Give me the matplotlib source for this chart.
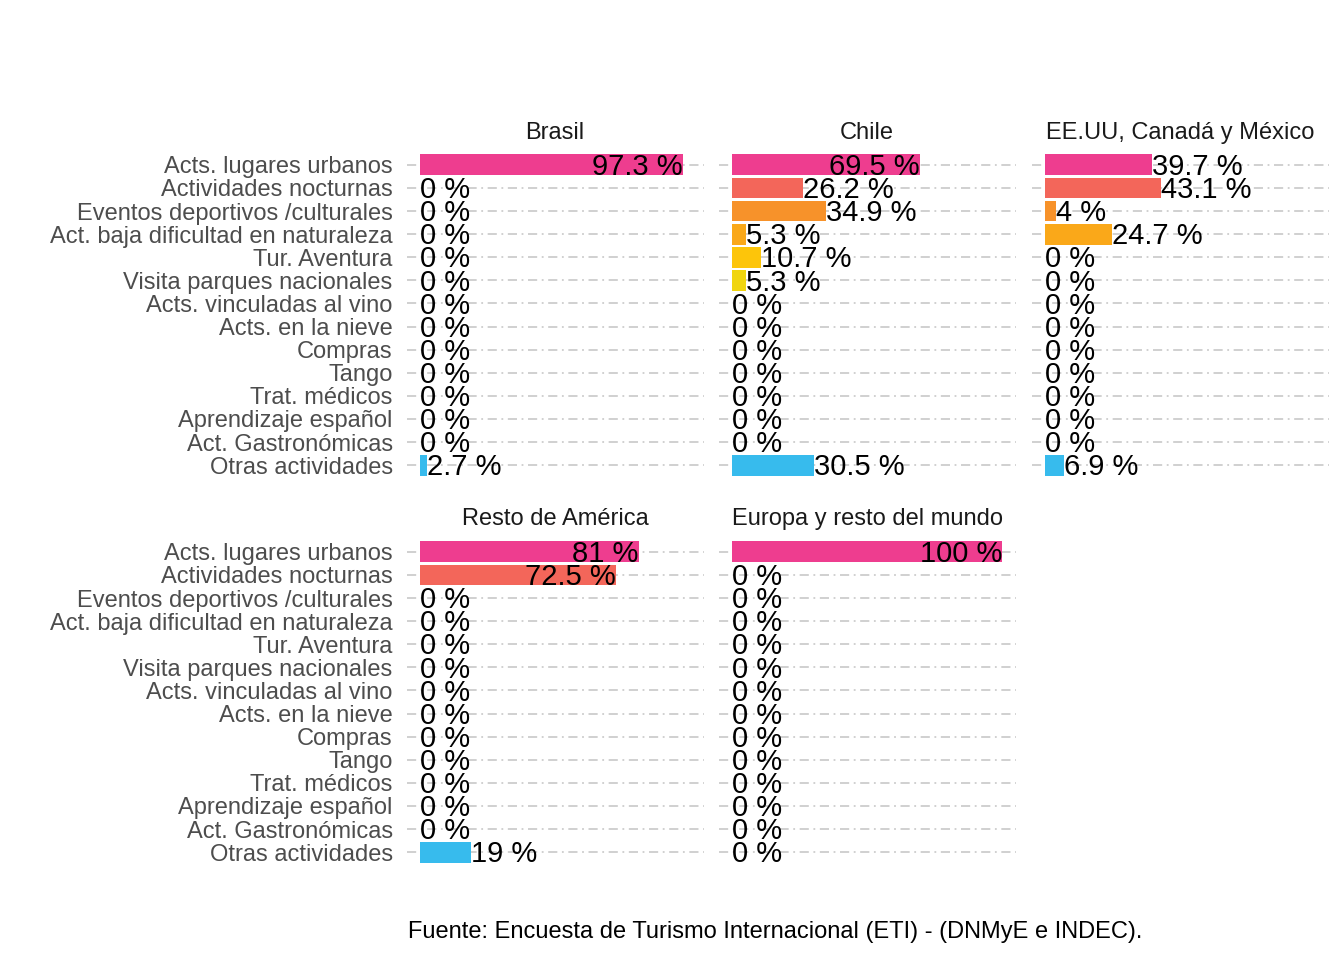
import matplotlib
matplotlib.use("Agg")
import matplotlib.pyplot as plt

plt.rcParams["font.family"] = ["Liberation Sans", "DejaVu Sans"]

# Activity categories (top to bottom)
activities = [
    "Acts. lugares urbanos",
    "Actividades nocturnas",
    "Eventos deportivos /culturales",
    "Act. baja dificultad en naturaleza",
    "Tur. Aventura",
    "Visita parques nacionales",
    "Acts. vinculadas al vino",
    "Acts. en la nieve",
    "Compras",
    "Tango",
    "Trat. médicos",
    "Aprendizaje español",
    "Act. Gastronómicas",
    "Otras actividades",
]

# One color per activity
colors = [
    "#EE3D8F", "#F3665A", "#F7922A", "#FAA819", "#FDC50A", "#F0D50F",
    "#B7D433", "#50B848", "#00A68D", "#0098B0", "#3E7EC2", "#6D5BA8",
    "#A5519E", "#37BBED",
]

# Percentage of tourists per origin
brasil = [97.3, 0, 0, 0, 0, 0, 0, 0, 0, 0, 0, 0, 0, 2.7]
chile = [69.5, 26.2, 34.9, 5.3, 10.7, 5.3, 0, 0, 0, 0, 0, 0, 0, 30.5]
eeuu = [39.7, 43.1, 4, 24.7, 0, 0, 0, 0, 0, 0, 0, 0, 0, 6.9]
resto_america = [81, 72.5, 0, 0, 0, 0, 0, 0, 0, 0, 0, 0, 0, 19]
europa = [100, 0, 0, 0, 0, 0, 0, 0, 0, 0, 0, 0, 0, 0]

panels = [
    ("Brasil", brasil, [0.3025, 0.501, 0.221, 0.3417], True),
    ("Chile", chile, [0.5346, 0.501, 0.221, 0.3417], False),
    ("EE.UU, Canadá y México", eeuu, [0.7675, 0.501, 0.221, 0.3417], False),
    ("Resto de América", resto_america, [0.3025, 0.0979, 0.221, 0.3417], True),
    ("Europa y resto del mundo", europa, [0.5346, 0.0979, 0.221, 0.3417], False),
]


def fmt(v):
    # 97.3 -> "97.3 %", 4.0 -> "4 %"
    if float(v).is_integer():
        return f"{int(v)} %"
    return f"{v} %"


fig = plt.figure(figsize=(13.44, 9.6), dpi=100)

for title, values, rect, show_labels in panels:
    ax = fig.add_axes(rect)
    ypos = list(range(len(activities)))

    # dashed-dotted horizontal grid at each category
    for y in ypos:
        ax.axhline(y, color="#C4C4C4", lw=1.1, dashes=(6, 3, 1.2, 3), zorder=0)

    ax.barh(ypos, values, height=0.9, color=colors, zorder=2)

    for y, v in zip(ypos, values):
        # big values go inside the bar end, small ones just outside
        ha = "right" if v > 50 else "left"
        ax.text(v, y + 0.44, fmt(v), ha=ha, va="baseline", fontsize=21, zorder=3)

    ax.set_xlim(-5, 105)
    ax.set_ylim(len(activities) - 0.4, -0.6)
    ax.set_xticks([])
    ax.set_yticks(ypos)
    if show_labels:
        ax.set_yticklabels(activities, fontsize=17, color="#4D4D4D")
    else:
        ax.set_yticklabels([])
    ax.tick_params(axis="y", length=0, pad=10)
    for s in ax.spines.values():
        s.set_visible(False)
    ax.set_title(title, fontsize=17, color="#1A1A1A", pad=9)

fig.text(0.577, 0.029, "Fuente: Encuesta de Turismo Internacional (ETI) - (DNMyE e INDEC).",
         ha="center", va="center", fontsize=17, color="black")

fig.savefig("out.png", dpi=100)
